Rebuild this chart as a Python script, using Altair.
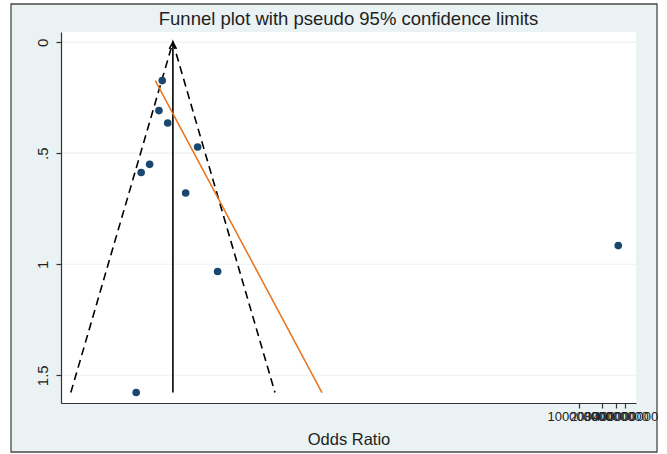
import altair as alt
import pandas as pd
import numpy as np

# ---- data ----
odds_ratio = [324, 293, 382, 946, 221, 171, 658, 1734, 147, 3.24e8]
std_err = [0.173, 0.308, 0.364, 0.472, 0.550, 0.587, 0.679, 1.033, 1.578, 0.916]

pooled_or = 447          # pooled (fixed-effect) odds ratio
se_max = 1.578           # largest standard error -> funnel base
reg_or = [262, 40900]    # regression line end points
reg_se = [0.173, 1.578]

y_ticks = [0, 0.5, 1, 1.5]
y_tick_labels = ["0", ".5", "1", "1.5"]
x_ticks = [100000000, 200000000, 300000000, 400000000]

TITLE = "Funnel plot with pseudo 95% confidence limits"
X_TITLE = "Odds Ratio"

# ---- tables ----
points = pd.DataFrame({"or": odds_ratio, "se": std_err})
funnel = pd.DataFrame({
    "or": [pooled_or * np.exp(-1.96 * se_max), pooled_or, pooled_or * np.exp(1.96 * se_max)],
    "se": [se_max, 0.0, se_max],
    "order": [0, 1, 2],
})
center = pd.DataFrame({"or": [pooled_or, pooled_or], "se": [0.0, se_max]})
apex = pd.DataFrame({"or": [pooled_or], "se": [0.0]})
reg = pd.DataFrame({"or": reg_or, "se": reg_se})
grid = pd.DataFrame({"se": y_ticks})

W, H = 575, 371
FONT = "Liberation Sans"
BG = "#EAF2F3"

label_expr = " : ".join(
    f"datum.value == {v} ? '{l}'" for v, l in zip(y_ticks[:-1], y_tick_labels[:-1])
) + f" : '{y_tick_labels[-1]}'"

xscale = alt.Scale(type="log", domain=[10 ** 1.178, 10 ** 8.744], nice=False)
yscale = alt.Scale(domain=[-0.046, 1.625], reverse=True, nice=False, zero=False)

x_axis = alt.Axis(values=x_ticks, format="d", title=X_TITLE, grid=False,
                  labelOverlap=False, labelFlush=False, tickSize=5,
                  labelFontSize=13, labelPadding=2, titleFontSize=16.5,
                  titleFontWeight="normal", titlePadding=8, zindex=1)
y_axis = alt.Axis(values=y_ticks, labelExpr=label_expr, title=None, grid=False,
                  labelAngle=270, tickSize=5, labelFontSize=15,
                  labelPadding=6, zindex=1)

x_enc = alt.X("or:Q", scale=xscale, axis=x_axis)
y_enc = alt.Y("se:Q", scale=yscale, axis=y_axis)

outer = alt.Chart(alt.Data(values=[{}])).mark_rect(
    fill=BG, stroke="#4a4a4a", strokeWidth=1.3
).encode(x=alt.value(-50), x2=alt.value(596), y=alt.value(-28), y2=alt.value(420))

inner = alt.Chart(alt.Data(values=[{}])).mark_rect(fill="white").encode(
    x=alt.value(0), x2=alt.value(W), y=alt.value(0), y2=alt.value(H))

grid_layer = alt.Chart(grid).mark_rule(color=BG, strokeWidth=1.2).encode(
    y=y_enc, x=alt.value(0), x2=alt.value(W))

funnel_layer = alt.Chart(funnel).mark_line(
    color="black", strokeDash=[8, 5], strokeWidth=1.6
).encode(x=x_enc, y=y_enc, order="order:Q")

center_layer = alt.Chart(center).mark_line(color="black", strokeWidth=1.6).encode(
    x=x_enc, y=y_enc)

arrow_layer = alt.Chart(apex).mark_point(
    shape="M-0.6,1.1L0,0L0.6,1.1", filled=False, color="black",
    strokeWidth=1.6, size=144, opacity=1
).encode(x=x_enc, y=y_enc)

reg_layer = alt.Chart(reg).mark_line(color="#E8731C", strokeWidth=1.5).encode(
    x=x_enc, y=y_enc)

point_layer = alt.Chart(points).mark_circle(color="#1A476F", size=58, opacity=1).encode(
    x=x_enc, y=y_enc)

chart = alt.layer(
    outer, inner, grid_layer, funnel_layer, center_layer, arrow_layer, reg_layer, point_layer
).properties(
    width=W, height=H,
    title=alt.TitleParams(TITLE, fontSize=18.5, font=FONT, fontWeight="normal",
                          anchor="middle", frame="group", offset=6, dy=31,
                          color="#222222"),
    autosize=alt.AutoSizeParams(type="none"),
    padding={"left": 61, "top": 32, "right": 31, "bottom": 51},
).configure(
    background="white",
).configure_view(
    stroke=None,
).configure_axis(
    labelFont=FONT, titleFont=FONT, domainColor="#333333", tickColor="#333333",
    labelColor="#222222", titleColor="#222222", domainWidth=1.2, tickWidth=1.2,
)

chart.save("out.html", embed_options={"renderer": "svg", "actions": False})
